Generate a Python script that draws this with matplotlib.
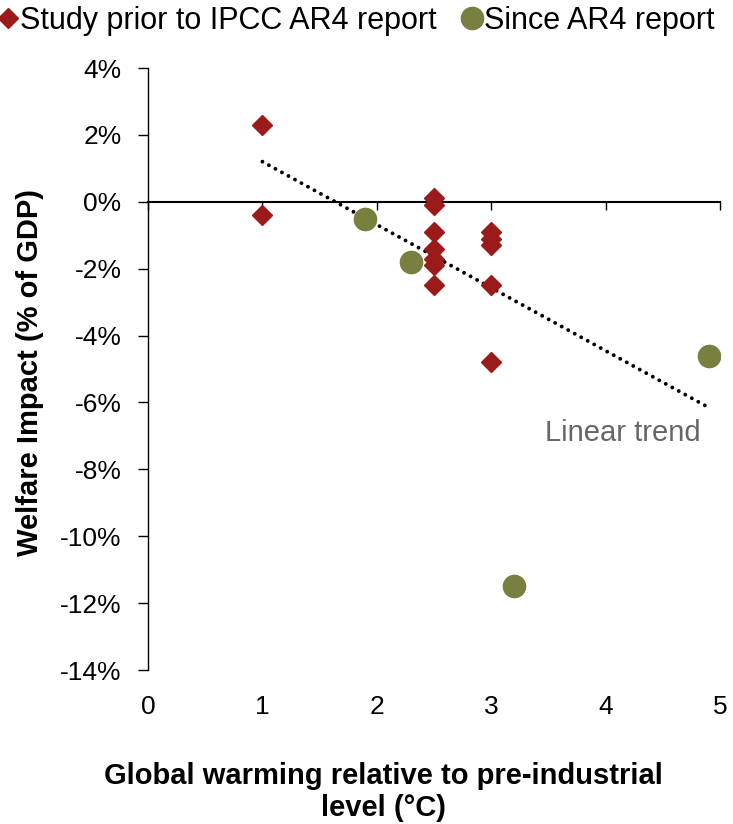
import numpy as np
import matplotlib
matplotlib.use("Agg")
import matplotlib.pyplot as plt
from matplotlib.lines import Line2D

plt.rcParams['font.family'] = ['Liberation Sans', 'DejaVu Sans']

# studies before AR4 (warming in degC, welfare impact in % of GDP)
prior_x = [1, 1, 2.5, 2.5, 2.5, 2.5, 2.5, 2.5, 2.5, 3, 3, 3, 3, 3]
prior_y = [2.3, -0.4, 0.1, -0.1, -0.9, -1.4, -1.7, -1.9, -2.5, -0.9, -1.1, -1.3, -2.5, -4.8]

# studies since AR4
since_x = [1.9, 2.3, 3.2, 4.9]
since_y = [-0.5, -1.8, -11.5, -4.6]

# linear trend, end points
trend_x = [1.0, 4.9]
trend_y = [1.2, -6.15]

x_ticks = [0, 1, 2, 3, 4, 5]
y_ticks = [4, 2, 0, -2, -4, -6, -8, -10, -12, -14]

red = '#9b1b1b'
olive = '#77803f'

fig = plt.figure(figsize=(7.33, 8.24), dpi=100)
ax = fig.add_axes([148 / 733, 1 - 670 / 824, (720 - 148) / 733, (670 - 68) / 824])

ax.plot(trend_x, trend_y, color='black', lw=2.8, dashes=[0.01, 1.9],
        dash_capstyle='round', zorder=3)
ax.plot(prior_x, prior_y, 'D', color=red, ms=10, mec=red, zorder=4)
ax.plot(since_x, since_y, 'o', color=olive, ms=16, mec=olive, zorder=4)

ax.text(4.15, -6.9, 'Linear trend', color='#666666', fontsize=21, ha='center', va='center')

ax.set_xlim(0, 5)
ax.set_ylim(-14, 4)

# y axis on the left, x axis line drawn through zero
ax.spines['top'].set_visible(False)
ax.spines['right'].set_visible(False)
ax.spines['bottom'].set_position(('data', 0))
ax.spines['left'].set_linewidth(1.0)
ax.spines['bottom'].set_linewidth(1.5)
ax.set_yticks(y_ticks)
ax.set_yticklabels(['%d%%' % v for v in y_ticks])
ax.tick_params(axis='y', direction='out', length=7, width=1, labelsize=19, pad=12)
ax.set_xticks(x_ticks)
ax.tick_params(axis='x', direction='out', length=6, width=1, labelbottom=False)

# tick labels for x sit at the bottom of the plot
sec = ax.secondary_xaxis('bottom')
sec.spines['bottom'].set_visible(False)
sec.set_xticks(x_ticks)
sec.tick_params(axis='x', length=0, labelsize=19, pad=18)

fig.text(30 / 733, 1 - 372 / 824, 'Welfare Impact (% of GDP)', rotation=90,
         fontsize=21, fontweight='bold', ha='center', va='center')
fig.text(383 / 733, 1 - 792 / 824, 'Global warming relative to pre-industrial\nlevel (\u00b0C)',
         fontsize=21, fontweight='bold', ha='center', va='center', linespacing=1.2)

handles = [Line2D([], [], ls='none', marker='D', color=red, ms=10),
           Line2D([], [], ls='none', marker='o', color=olive, ms=16)]
fig.legend(handles, ['Study prior to IPCC AR4 report', 'Since AR4 report'],
           loc='center left', bbox_to_anchor=(0, 1 - 21 / 824), ncol=2, frameon=False,
           fontsize=22, handlelength=0.5, handletextpad=0.15, columnspacing=0.9,
           borderaxespad=0, borderpad=0)

fig.savefig('out.png', dpi=100)
